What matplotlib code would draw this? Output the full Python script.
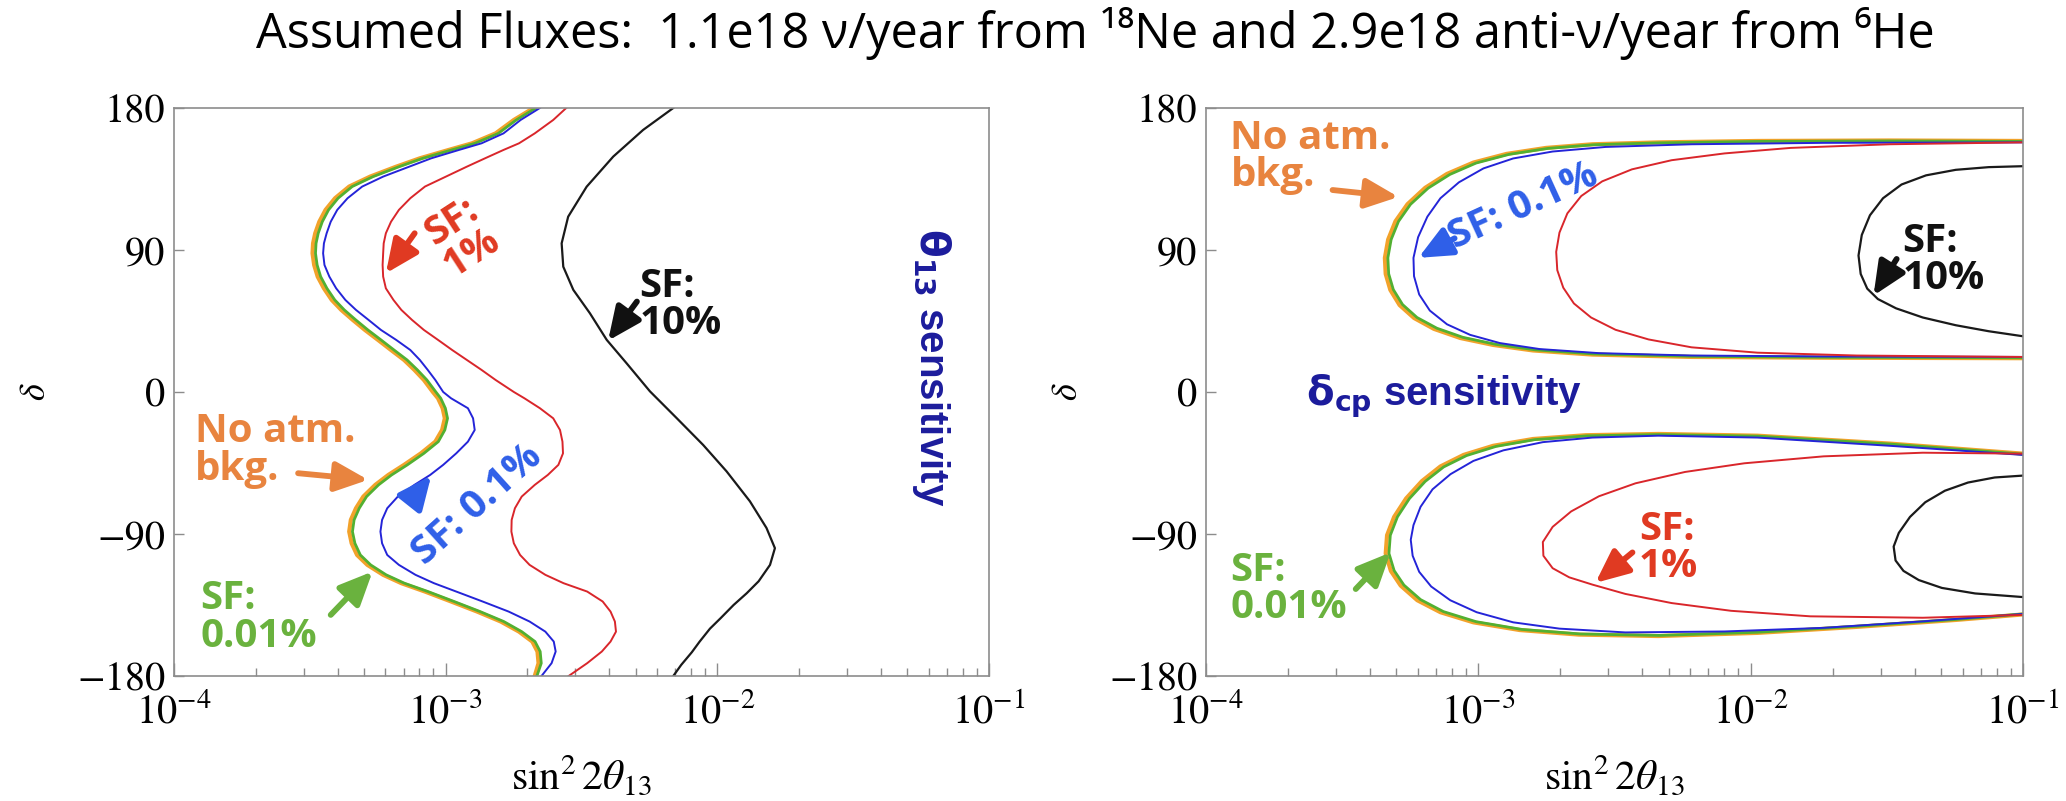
import numpy as np
import matplotlib.pyplot as plt

plt.rcParams['font.family'] = 'STIXGeneral'
plt.rcParams['mathtext.fontset'] = 'stix'

# ---- theta13 sensitivity (left): log10(sin^2 2theta13) on each contour vs delta ----
theta_delta = [180, 172.4, 163.9, 157.6, 153.4, 148.1, 142.8, 136.5, 130.2, 122.8, 115.4, 107.9, 100.6, 94.2,
               87.9, 80.5, 73.1, 65.7, 58.3, 52.0, 45.7, 39.3, 33.0, 26.6, 20.3, 14.0, 7.6, 0,
               -4.0, -10.3, -16.7, -24.1, -31.5, -38.9, -46.2, -52.6, -58.9, -66.3, -73.7, -81.1, -88.5, -95.9,
               -103.3, -109.6, -115.9, -121.2, -126.5, -132.8, -139.2, -145.5, -151.9, -158.2, -164.5, -171.9, -180]

nobkg_logx = [-2.676, -2.749, -2.816, -2.903, -2.989, -3.095, -3.182, -3.278, -3.355, -3.407, -3.442, -3.465, -3.480, -3.488,
              -3.490, -3.484, -3.471, -3.448, -3.419, -3.384, -3.342, -3.297, -3.249, -3.201, -3.153, -3.115, -3.080, -3.047,
              -3.028, -3.011, -3.003, -3.013, -3.038, -3.091, -3.153, -3.211, -3.259, -3.303, -3.330, -3.349, -3.355, -3.346,
              -3.326, -3.288, -3.230, -3.163, -3.076, -2.980, -2.884, -2.797, -2.730, -2.681, -2.662, -2.658, -2.672]
sf001_logx = [-2.668, -2.740, -2.806, -2.892, -2.978, -3.084, -3.171, -3.267, -3.344, -3.396, -3.431, -3.454, -3.469, -3.477,
              -3.479, -3.473, -3.460, -3.437, -3.408, -3.373, -3.331, -3.286, -3.238, -3.190, -3.142, -3.104, -3.069, -3.036,
              -3.018, -3.001, -2.993, -3.003, -3.027, -3.080, -3.141, -3.199, -3.247, -3.291, -3.318, -3.337, -3.343, -3.334,
              -3.314, -3.276, -3.219, -3.152, -3.065, -2.969, -2.873, -2.786, -2.720, -2.671, -2.652, -2.648, -2.664]
sf01_logx = [-2.653, -2.724, -2.787, -2.868, -2.951, -3.053, -3.134, -3.230, -3.307, -3.361, -3.399, -3.423, -3.438, -3.448,
             -3.451, -3.446, -3.428, -3.403, -3.369, -3.330, -3.284, -3.238, -3.182, -3.130, -3.095, -3.066, -3.038, -3.009,
             -2.980, -2.918, -2.899, -2.893, -2.918, -2.961, -3.009, -3.057, -3.115, -3.176, -3.215, -3.234, -3.240, -3.234,
             -3.215, -3.172, -3.111, -3.043, -2.961, -2.864, -2.768, -2.691, -2.633, -2.602, -2.595, -2.610, -2.647]
sf1_logx = [-2.556, -2.604, -2.672, -2.730, -2.787, -2.855, -2.922, -2.999, -3.076, -3.130, -3.172, -3.201, -3.220, -3.228,
            -3.230, -3.232, -3.230, -3.220, -3.192, -3.163, -3.124, -3.080, -3.028, -2.976, -2.922, -2.868, -2.816, -2.749,
            -2.710, -2.653, -2.604, -2.579, -2.570, -2.568, -2.585, -2.624, -2.672, -2.720, -2.745, -2.757, -2.758, -2.749,
            -2.726, -2.691, -2.633, -2.566, -2.479, -2.422, -2.393, -2.377, -2.373, -2.393, -2.425, -2.479, -2.547]

sf10_delta = [180, 166.1, 149.2, 130.1, 111.1, 94.2, 79.4, 64.7, 49.9, 33.0, 18.2, 0.4, -16.5, -33.6,
              -50.3, -69.3, -86.2, -99.0, -109.6, -120, -127.6, -135, -143.4, -150, -158.2, -165, -173, -180]
sf10_logx = [-2.162, -2.273, -2.383, -2.481, -2.549, -2.573, -2.567, -2.530, -2.469, -2.407, -2.334, -2.248, -2.150, -2.052,
             -1.966, -1.880, -1.819, -1.788, -1.806, -1.848, -1.892, -1.940, -1.988, -2.027, -2.065, -2.094, -2.133, -2.162]

# ---- delta_cp sensitivity (right): upper and lower lobe per contour ----
cp_nobkg_up_logx = [-1.0, -1.490, -1.975, -2.339, -2.581, -2.751, -2.896, -3.018, -3.115, -3.195, -3.260, -3.304, -3.331,
                    -3.343, -3.340, -3.323, -3.289, -3.236, -3.163, -3.066, -2.945, -2.799, -2.581, -2.217, -1.732, -1.0]
cp_nobkg_up_delta = [159.1, 159.4, 159.1, 158.2, 157.0, 154.7, 150.9, 145.4, 138.2, 129.4, 119.0, 108.2, 96.6,
                     85.0, 74.8, 64.7, 55.1, 46.9, 40.0, 34.2, 29.8, 26.3, 23.7, 22.2, 21.7, 21.4]
cp_nobkg_lo_logx = [-1.0, -1.490, -1.975, -2.339, -2.605, -2.799, -2.945, -3.054, -3.139, -3.207, -3.265, -3.309, -3.335,
                    -3.340, -3.321, -3.285, -3.224, -3.139, -3.018, -2.848, -2.630, -2.339, -1.975, -1.611, -1.247, -1.0]
cp_nobkg_lo_delta = [-39.1, -32.7, -27.7, -26.6, -27.4, -29.8, -34.1, -39.9, -47.2, -56.5, -67.5, -79.2, -90.8,
                     -102.4, -113.4, -122.7, -132.0, -139.6, -146.0, -150.9, -153.8, -154.7, -152.7, -148.9, -144.5, -141.0]

cp_sf001_up_logx = [-1.0, -1.490, -1.975, -2.335, -2.575, -2.743, -2.887, -3.008, -3.104, -3.184, -3.249, -3.293, -3.320,
                    -3.332, -3.329, -3.312, -3.278, -3.225, -3.152, -3.056, -2.936, -2.791, -2.575, -2.215, -1.732, -1.0]
cp_sf001_up_delta = [158.8, 159.1, 158.8, 157.9, 156.7, 154.4, 150.6, 145.1, 137.9, 129.2, 118.9, 108.1, 96.6,
                     85.0, 74.9, 64.9, 55.4, 47.2, 40.4, 34.6, 30.2, 26.7, 24.1, 22.6, 22.0, 21.7]
cp_sf001_lo_logx = [-1.0, -1.490, -1.975, -2.339, -2.600, -2.792, -2.935, -3.043, -3.127, -3.195, -3.253, -3.297, -3.323,
                    -3.328, -3.309, -3.273, -3.212, -3.128, -3.008, -2.840, -2.624, -2.335, -1.975, -1.611, -1.247, -1.0]
cp_sf001_lo_delta = [-39.4, -33.0, -28.0, -27.0, -27.8, -30.2, -34.5, -40.3, -47.5, -56.7, -67.6, -79.2, -90.8,
                     -102.3, -113.2, -122.4, -131.6, -139.2, -145.6, -150.5, -153.4, -154.3, -152.3, -148.5, -144.2, -140.7]

cp_sf01_up_logx = [-1.0, -1.732, -2.217, -2.533, -2.727, -2.872, -2.981, -3.071, -3.139, -3.187, -3.221, -3.238,
                   -3.236, -3.217, -3.178, -3.115, -3.030, -2.921, -2.775, -2.557, -2.217, -1.732, -1.0]
cp_sf01_up_delta = [158.2, 157.9, 157.0, 155.3, 152.4, 148.0, 141.7, 132.9, 122.8, 111.1, 98.1, 85.0,
                    73.4, 61.8, 51.6, 42.9, 36.2, 31.0, 27.2, 24.6, 23.1, 22.5, 22.2]
cp_sf01_lo_logx = [-1.0, -1.490, -1.975, -2.339, -2.581, -2.763, -2.908, -3.018, -3.102, -3.168, -3.212, -3.238, -3.248,
                   -3.241, -3.217, -3.173, -3.103, -3.006, -2.872, -2.702, -2.460, -2.096, -1.732, -1.368, -1.0]
cp_sf01_lo_delta = [-39.9, -34.1, -28.9, -27.7, -28.9, -31.8, -37.0, -43.7, -52.1, -61.7, -72.8, -84.4, -93.7,
                    -103.8, -114.0, -123.3, -132.0, -139.6, -146.0, -150.0, -152.4, -151.8, -149.5, -145.4, -140.7]

cp_sf1_up_logx = [-1.0, -1.490, -1.853, -2.096, -2.290, -2.436, -2.545, -2.622, -2.673, -2.702, -2.714,
                  -2.710, -2.688, -2.649, -2.586, -2.496, -2.375, -2.217, -1.975, -1.611, -1.0]
cp_sf1_up_delta = [158.2, 157.0, 154.7, 151.2, 146.9, 141.1, 133.5, 124.2, 113.2, 101.0, 88.8,
                   77.2, 66.1, 56.1, 47.2, 39.4, 33.3, 28.3, 24.9, 23.1, 22.2]
cp_sf1_lo_logx = [-1.0, -1.368, -1.732, -2.023, -2.241, -2.423, -2.557, -2.659, -2.727, -2.763,
                  -2.761, -2.727, -2.666, -2.581, -2.460, -2.290, -2.072, -1.781, -1.368, -1.0]
cp_sf1_lo_delta = [-39.1, -38.5, -40.8, -45.2, -50.7, -57.9, -66.1, -75.7, -85.5, -95.1,
                   -103.8, -111.7, -117.5, -122.1, -128.0, -133.8, -138.7, -142.2, -143.1, -141.3]

cp_sf10_up_logx = [-1.0, -1.126, -1.247, -1.356, -1.446, -1.514, -1.562, -1.592, -1.604,
                   -1.596, -1.572, -1.533, -1.466, -1.368, -1.247, -1.126, -1.0]
cp_sf10_up_delta = [143.1, 142.5, 140.8, 137.3, 131.5, 122.8, 112.0, 99.5, 86.5,
                    74.8, 65.5, 58.9, 53.0, 47.2, 42.3, 38.5, 35.3]
cp_sf10_lo_logx = [-1.0, -1.104, -1.202, -1.287, -1.359, -1.415, -1.456, -1.475,
                   -1.468, -1.439, -1.383, -1.298, -1.176, -1.0]
cp_sf10_lo_delta = [-53.0, -54.2, -57.4, -62.6, -69.9, -79.2, -89.3, -98.0,
                    -106.8, -113.4, -119.2, -124.2, -127.7, -130.0]

TITLE = 'Assumed Fluxes:  1.1e18 \u03bd/year from \u00b9\u2078Ne and 2.9e18 anti-\u03bd/year from \u2076He'

C_ORANGE, C_GREEN, C_BLUE, C_RED, C_BLACK = '#f2a22a', '#52b031', '#2424d8', '#d9262b', '#1a1a1a'
T_ORANGE, T_GREEN, T_BLUE, T_RED, T_BLACK = '#e8843f', '#6ab23e', '#2f5fe8', '#e03a22', '#111111'
NAVY = '#1c1c9c'
LINE_W = {C_ORANGE: 3.0, C_GREEN: 2.0, C_BLUE: 1.4, C_RED: 1.4, C_BLACK: 1.6}


def lx(v):
    return 10.0 ** np.asarray(v)


def style_axes(ax):
    ax.set_xscale('log')
    ax.set_xlim(1e-4, 1e-1)
    ax.set_ylim(-180, 180)
    ax.set_yticks([-180, -90, 0, 90, 180])
    ax.tick_params(which='both', direction='in', color='#8c8c8c', labelsize=29, top=False, right=False)
    ax.tick_params(axis='x', which='major', length=9.5, width=1, pad=13)
    ax.tick_params(axis='x', which='minor', length=6, width=1)
    ax.tick_params(axis='y', which='major', length=7, width=1, pad=6)
    ax.tick_params(axis='y', which='minor', left=False)
    for s in ax.spines.values():
        s.set_color('#8c8c8c')
        s.set_linewidth(1.2)
    ax.set_xlabel(r'$\sin^2 2\theta_{13}$', fontsize=30)
    ax.set_ylabel(r'$\delta$', fontsize=26)
    ax.xaxis.set_label_coords(0.5, -0.138)
    ax.yaxis.set_label_coords(-0.148, 0.5)


def note(ax, text, x, y, color, tail=None, tip=None, **kw):
    ax.text(x, y, text, color=color, family='Open Sans', fontweight='bold',
            fontsize=29, linespacing=0.95, **kw)
    if tip is not None:
        ax.annotate('', xy=(10 ** tip[0], tip[1]), xytext=(10 ** tail[0], tail[1]),
                    arrowprops=dict(arrowstyle='-|>,head_length=0.8,head_width=0.36',
                                    color=color, lw=4.2, mutation_scale=25,
                                    shrinkA=0, shrinkB=0))


fig = plt.figure(figsize=(20.66, 8.01), dpi=100)
ax1 = fig.add_axes([0.0842, 0.1561, 0.3945, 0.7091])
ax2 = fig.add_axes([0.5837, 0.1561, 0.3955, 0.7091])

# left panel curves
ax1.plot(lx(nobkg_logx), theta_delta, color=C_ORANGE, lw=LINE_W[C_ORANGE])
ax1.plot(lx(sf001_logx), theta_delta, color=C_GREEN, lw=LINE_W[C_GREEN])
ax1.plot(lx(sf01_logx), theta_delta, color=C_BLUE, lw=LINE_W[C_BLUE])
ax1.plot(lx(sf1_logx), theta_delta, color=C_RED, lw=LINE_W[C_RED])
ax1.plot(lx(sf10_logx), sf10_delta, color=C_BLACK, lw=LINE_W[C_BLACK])

# right panel lobes
lobes = [
    (cp_nobkg_up_logx, cp_nobkg_up_delta, C_ORANGE), (cp_nobkg_lo_logx, cp_nobkg_lo_delta, C_ORANGE),
    (cp_sf001_up_logx, cp_sf001_up_delta, C_GREEN), (cp_sf001_lo_logx, cp_sf001_lo_delta, C_GREEN),
    (cp_sf01_up_logx, cp_sf01_up_delta, C_BLUE), (cp_sf01_lo_logx, cp_sf01_lo_delta, C_BLUE),
    (cp_sf1_up_logx, cp_sf1_up_delta, C_RED), (cp_sf1_lo_logx, cp_sf1_lo_delta, C_RED),
    (cp_sf10_up_logx, cp_sf10_up_delta, C_BLACK), (cp_sf10_lo_logx, cp_sf10_lo_delta, C_BLACK),
]
for xs, ds, c in lobes:
    ax2.plot(lx(xs), ds, color=c, lw=LINE_W[c])

for ax in (ax1, ax2):
    style_axes(ax)

# left panel labels
note(ax1, 'SF:\n1%', 10 ** -2.941, 98, T_RED, tail=(-3.114, 100.6), tip=(-3.220, 75.2),
     ha='center', va='center', rotation=33, rotation_mode='anchor')
note(ax1, 'SF:\n10%', 10 ** -2.287, 55, T_BLACK, tail=(-2.296, 57.3), tip=(-2.402, 32.5),
     ha='left', va='center')
note(ax1, 'No atm.\nbkg.', 10 ** -3.923, -37, T_ORANGE, tail=(-3.543, -51.5), tip=(-3.285, -55.7),
     ha='left', va='center')
note(ax1, 'SF:\n0.01%', 10 ** -3.904, -143, T_GREEN, tail=(-3.423, -141.3), tip=(-3.269, -113.8),
     ha='left', va='center')
note(ax1, 'SF: 0.1%', 10 ** -2.884, -71.6, T_BLUE, tail=(-3.124, -68.4), tip=(-3.053, -53.0),
     ha='center', va='center', rotation=42, rotation_mode='anchor')
ax1.text(10 ** -1.210, 16, r'$\mathbf{\theta_{13}}$ sensitivity', rotation=-90, ha='center', va='center',
         color=NAVY, family='Liberation Sans', fontweight='bold', fontsize=29, math_fontfamily='dejavusans')

# right panel labels
note(ax2, 'No atm.\nbkg.', 10 ** -3.910, 149, T_ORANGE, tail=(-3.535, 128.0), tip=(-3.293, 123.6),
     ha='left', va='center')
note(ax2, 'SF: 0.1%', 10 ** -2.833, 117.9, T_BLUE, tail=(-3.087, 97.4), tip=(-3.22, 85.0),
     ha='center', va='center', rotation=24.5, rotation_mode='anchor')
note(ax2, 'SF:\n10%', 10 ** -1.442, 83.7, T_BLACK, tail=(-1.464, 84.3), tip=(-1.549, 61.1),
     ha='left', va='center')
note(ax2, 'SF:\n1%', 10 ** -2.41, -98.8, T_RED, tail=(-2.434, -101.7), tip=(-2.57, -121.0),
     ha='left', va='center')
note(ax2, 'SF:\n0.01%', 10 ** -3.910, -124.8, T_GREEN, tail=(-3.450, -124.9), tip=(-3.322, -101.7),
     ha='left', va='center')
ax2.text(10 ** -3.631, -3, r'$\mathbf{\delta_{cp}}$ sensitivity', ha='left', va='center',
         color=NAVY, family='Liberation Sans', fontweight='bold', fontsize=29, math_fontfamily='dejavusans')

fig.text(0.530, 0.940, TITLE, ha='center', va='baseline', fontsize=35, family=['Open Sans', 'DejaVu Sans'])

fig.savefig('out.png', dpi=100)
